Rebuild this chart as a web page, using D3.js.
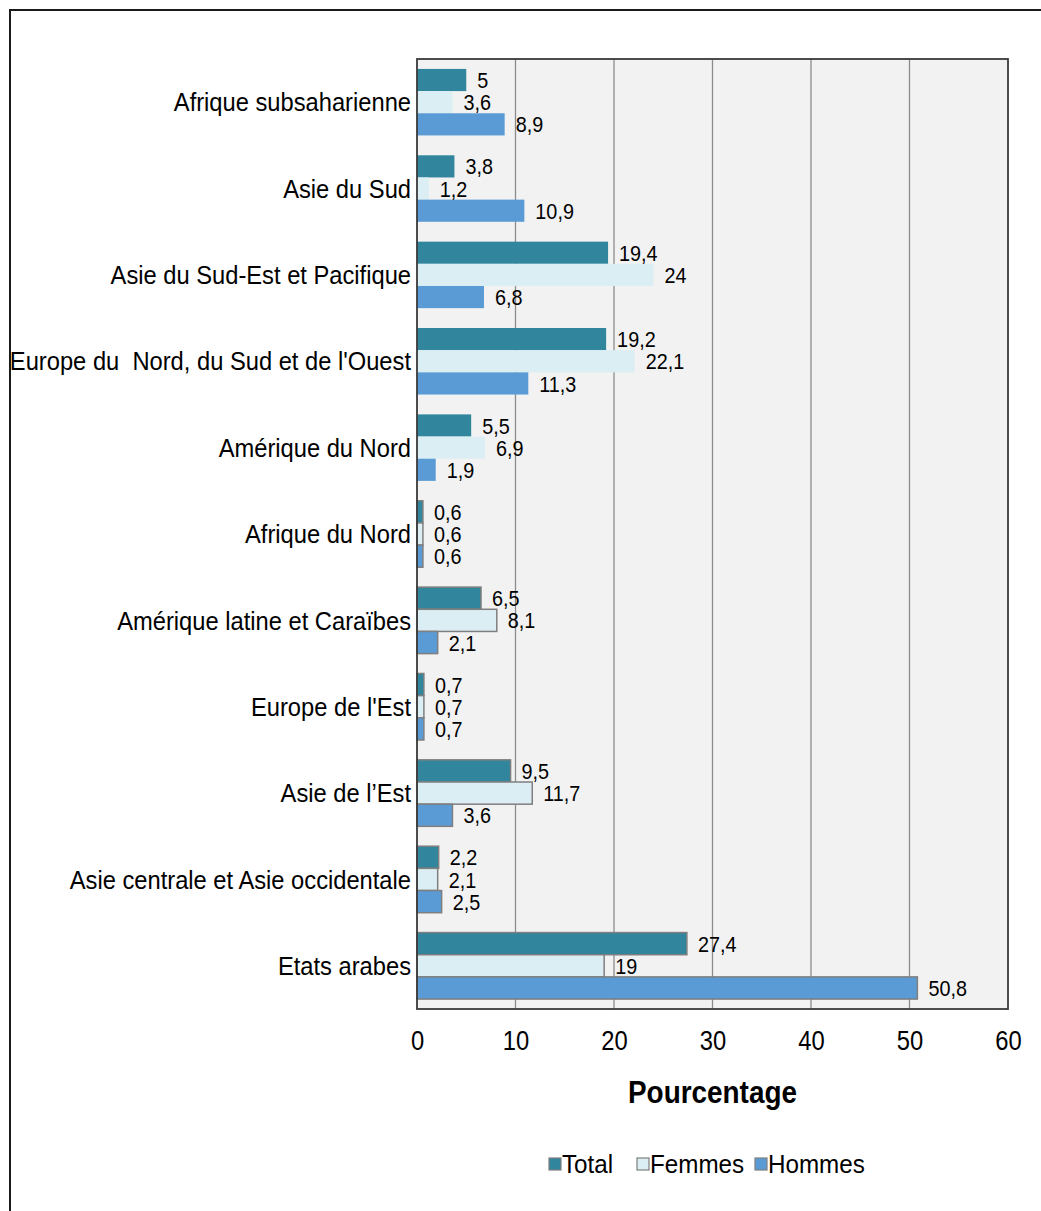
<!DOCTYPE html>
<html><head><meta charset="utf-8">
<script src="https://cdn.jsdelivr.net/npm/d3@7"></script>
<style>body{margin:0;background:#fff} text{white-space:pre}</style>
</head><body>
<svg id="c" width="1041" height="1211"></svg>
<script>
const categories = ["Afrique subsaharienne","Asie du Sud","Asie du Sud-Est et Pacifique","Europe du  Nord, du Sud et de l'Ouest","Amérique du Nord","Afrique du Nord","Amérique latine et Caraïbes","Europe de l'Est","Asie de l’Est","Asie centrale et Asie occidentale","Etats arabes"];
const seriesNames = ["Total","Femmes","Hommes"];
const totalValues  = [5,3.8,19.4,19.2,5.5,0.6,6.5,0.7,9.5,2.2,27.4];
const femmesValues = [3.6,1.2,24,22.1,6.9,0.6,8.1,0.7,11.7,2.1,19];
const hommesValues = [8.9,10.9,6.8,11.3,1.9,0.6,2.1,0.7,3.6,2.5,50.8];
const xTicks = [0,10,20,30,40,50,60];
const axisTitle = "Pourcentage";

const colors = {Total:"#31859c", Femmes:"#dbeef4", Hommes:"#5b9bd5"};
const seriesValues = {Total: totalValues, Femmes: femmesValues, Hommes: hommesValues};
const fmt = v => String(v).replace(".", ",");
const FONT = "'Liberation Sans',Arial,sans-serif";

const svg = d3.select("#c");
const L = 417, R = 1008, T = 59, B = 1009;

svg.append("rect").attr("x",10).attr("y",10).attr("width",1200).attr("height",1400)
  .attr("fill","#fff").attr("stroke","#1a1a1a").attr("stroke-width",2);

const x = d3.scaleLinear().domain([0,60]).range([L,R]);
const y = d3.scaleBand().domain(categories).range([T,B]).paddingInner(0.23).paddingOuter(0.115);
const ys = d3.scaleBand().domain(seriesNames).range([0,y.bandwidth()]);

svg.append("rect").attr("x",L).attr("y",T).attr("width",R-L).attr("height",B-T).attr("fill","#f2f2f2");

svg.append("g").selectAll("line").data(xTicks.slice(1,-1)).join("line")
  .attr("x1",d=>x(d)).attr("x2",d=>x(d)).attr("y1",T).attr("y2",B)
  .attr("stroke","#8c8c8c").attr("stroke-width",1.3);

const rows = [];
categories.forEach((c,i)=>seriesNames.forEach(s=>rows.push({c,i,s,v:seriesValues[s][i]})));

svg.append("g").selectAll("rect").data(rows).join("rect")
  .attr("x",x(0)).attr("y",d=>y(d.c)+ys(d.s)).attr("width",d=>x(d.v)-x(0)).attr("height",ys.bandwidth())
  .attr("fill",d=>colors[d.s])
  .attr("stroke",d=>d.i>=5?"#7f7f7f":"none").attr("stroke-width",1.5);

svg.append("g").selectAll("text").data(rows).join("text")
  .attr("transform",d=>`translate(${x(d.v)+11},${y(d.c)+ys(d.s)+ys.bandwidth()/2}) scale(0.88,1)`)
  .attr("dy","0.36em").attr("font-family",FONT)
  .attr("font-size",22.5).attr("fill","#000").text(d=>fmt(d.v));

svg.append("rect").attr("x",L).attr("y",T).attr("width",R-L).attr("height",B-T)
  .attr("fill","none").attr("stroke","#3a3a3a").attr("stroke-width",1.8);

svg.append("g").selectAll("text").data(categories).join("text")
  .attr("transform",d=>`translate(${L-6},${y(d)+y.bandwidth()/2}) scale(0.93,1)`)
  .attr("dy","0.36em").attr("text-anchor","end")
  .attr("font-family",FONT).attr("font-size",25.5).text(d=>d);

const xAxis = d3.axisBottom(x).tickValues(xTicks).tickSize(0).tickPadding(0).tickFormat(d=>d);
const ax = svg.append("g").attr("transform",`translate(0,${B})`).call(xAxis);
ax.select(".domain").remove();
ax.selectAll("text").attr("font-family",FONT).attr("font-size",27).attr("fill","#000")
  .attr("y",0).attr("dy","0").attr("transform","translate(0,41) scale(0.88,1)");

svg.append("text").attr("transform",`translate(${(L+R)/2},1092) scale(0.9,1)`).attr("dy","0.36em").attr("text-anchor","middle")
  .attr("font-family",FONT).attr("font-weight","bold").attr("font-size",31).text(axisTitle);

const legX = [549,637,755];
const lg = svg.append("g").selectAll("g").data(seriesNames).join("g")
  .attr("transform",(d,i)=>`translate(${legX[i]},1164)`);
lg.append("rect").attr("x",0).attr("y",-6).attr("width",12).attr("height",12)
  .attr("fill",d=>colors[d]).attr("stroke","#7f7f7f").attr("stroke-width",1.2);
lg.append("text").attr("transform","translate(13,0) scale(0.95,1)").attr("dy","0.36em")
  .attr("font-family",FONT).attr("font-size",25.5).text(d=>d);
</script>
</body></html>
